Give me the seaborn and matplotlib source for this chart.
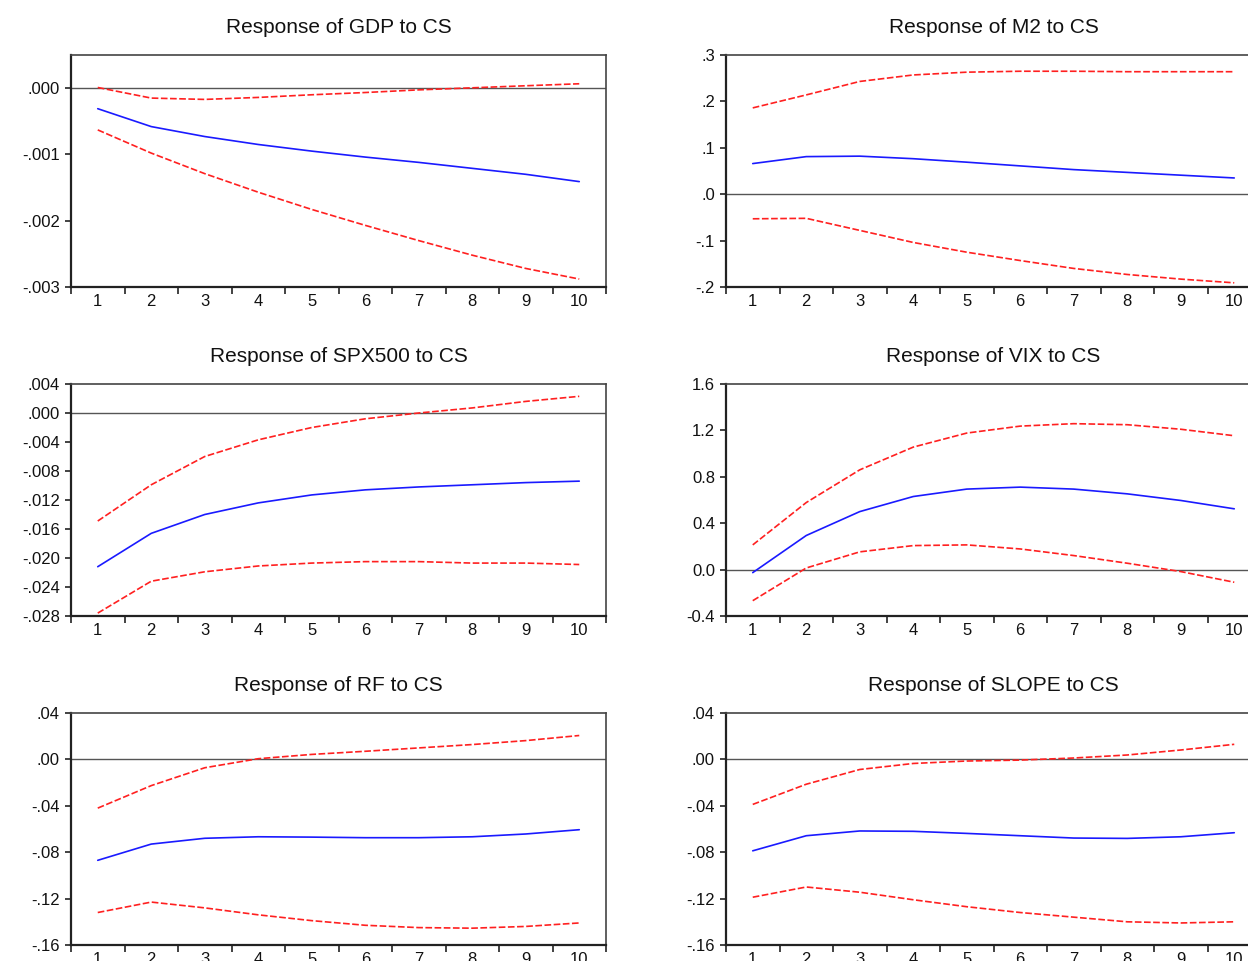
import numpy as np
import pandas as pd
import seaborn as sns
import matplotlib.pyplot as plt
from matplotlib.ticker import FixedLocator, FuncFormatter

# Impulse responses to a CS shock, periods 1-10 (response, +/- 2 S.E. bands).
steps = list(range(1, 11))

gdp_resp = [-0.00031, -0.00058, -0.00073, -0.00085, -0.00095, -0.00104, -0.00112, -0.00121, -0.00130, -0.00141]
gdp_upper = [0.00001, -0.00015, -0.00017, -0.00014, -0.00010, -0.000066, -0.000026, 0.000005, 0.000036, 0.000066]
gdp_lower = [-0.00063, -0.00098, -0.00129, -0.00157, -0.00183, -0.00207, -0.00230, -0.00252, -0.00272, -0.00288]

m2_resp = [0.066, 0.081, 0.082, 0.0765, 0.069, 0.061, 0.053, 0.047, 0.041, 0.035]
m2_upper = [0.186, 0.214, 0.243, 0.257, 0.263, 0.265, 0.265, 0.264, 0.264, 0.264]
m2_lower = [-0.053, -0.052, -0.078, -0.104, -0.125, -0.143, -0.160, -0.173, -0.183, -0.191]

spx_resp = [-0.0212, -0.0166, -0.0140, -0.0124, -0.0113, -0.0106, -0.0102, -0.0099, -0.0096, -0.0094]
spx_upper = [-0.0149, -0.0099, -0.0060, -0.0037, -0.0020, -0.0008, 0.0000, 0.0007, 0.0016, 0.0023]
spx_lower = [-0.0276, -0.0232, -0.0219, -0.0211, -0.0207, -0.0205, -0.0205, -0.0207, -0.0207, -0.0209]

vix_resp = [-0.026, 0.294, 0.50, 0.63, 0.694, 0.711, 0.694, 0.653, 0.596, 0.524]
vix_upper = [0.213, 0.578, 0.86, 1.056, 1.177, 1.237, 1.258, 1.249, 1.21, 1.154]
vix_lower = [-0.268, 0.014, 0.153, 0.207, 0.213, 0.178, 0.121, 0.055, -0.017, -0.109]

rf_resp = [-0.087, -0.073, -0.068, -0.0667, -0.067, -0.0675, -0.0675, -0.0667, -0.0643, -0.0606]
rf_upper = [-0.042, -0.0226, -0.0072, 0.0006, 0.0043, 0.0070, 0.0099, 0.0128, 0.0162, 0.0206]
rf_lower = [-0.132, -0.123, -0.128, -0.134, -0.139, -0.143, -0.145, -0.1455, -0.144, -0.141]

slope_resp = [-0.0788, -0.0658, -0.0617, -0.0620, -0.0638, -0.0658, -0.0678, -0.0681, -0.0667, -0.0632]
slope_upper = [-0.0388, -0.0214, -0.0087, -0.0035, -0.0014, -0.0006, 0.0012, 0.0038, 0.0081, 0.0130]
slope_lower = [-0.1188, -0.1100, -0.1145, -0.1210, -0.1270, -0.1320, -0.1360, -0.1400, -0.1410, -0.1400]

gdp_ticks = [-0.003, -0.002, -0.001, 0.0]
m2_ticks = [-0.2, -0.1, 0.0, 0.1, 0.2, 0.3]
spx_ticks = [-0.028, -0.024, -0.020, -0.016, -0.012, -0.008, -0.004, 0.0, 0.004]
vix_ticks = [-0.4, 0.0, 0.4, 0.8, 1.2, 1.6]
rf_ticks = [-0.16, -0.12, -0.08, -0.04, 0.0, 0.04]
slope_ticks = [-0.16, -0.12, -0.08, -0.04, 0.0, 0.04]

panels = [
    ('GDP', gdp_resp, gdp_upper, gdp_lower, gdp_ticks, (-0.003, 0.0005), 3, True),
    ('M2', m2_resp, m2_upper, m2_lower, m2_ticks, (-0.2, 0.3), 1, True),
    ('SPX500', spx_resp, spx_upper, spx_lower, spx_ticks, (-0.028, 0.004), 3, True),
    ('VIX', vix_resp, vix_upper, vix_lower, vix_ticks, (-0.4, 1.6), 1, False),
    ('RF', rf_resp, rf_upper, rf_lower, rf_ticks, (-0.16, 0.04), 2, True),
    ('SLOPE', slope_resp, slope_upper, slope_lower, slope_ticks, (-0.16, 0.04), 2, True),
]


def eviews_fmt(decimals, strip):
    # EViews style labels: ".000", "-.001" (no leading zero)
    def fmt(v, pos):
        if abs(v) < 1e-12:
            v = 0.0
        s = f'{v:.{decimals}f}'
        if strip:
            s = s.replace('0.', '.', 1)
        return s
    return FuncFormatter(fmt)


sns.set_style('white')
plt.rcParams['font.family'] = ['Liberation Sans', 'DejaVu Sans']
plt.rcParams['text.color'] = '#111111'
plt.rcParams['xtick.labelcolor'] = '#111111'
plt.rcParams['ytick.labelcolor'] = '#111111'

fig = plt.figure(figsize=(12.48, 9.61), dpi=100)
W, H = 1248, 961
lefts = [71, 726]
tops = [55, 384, 713]
aw, ah = 535, 232

for i, (name, resp, upper, lower, ticks, ylim, dec, strip) in enumerate(panels):
    row, col = divmod(i, 2)
    ax = fig.add_axes([lefts[col] / W, 1 - (tops[row] + ah) / H, aw / W, ah / H])
    df = pd.DataFrame({'step': steps, 'resp': resp, 'upper': upper, 'lower': lower})

    ax.axhline(0, color='#555555', lw=1.0, zorder=1)
    sns.lineplot(data=df, x='step', y='upper', ax=ax, color='#ff2020',
                 lw=1.2, linestyle=(0, (4, 1.5)))
    sns.lineplot(data=df, x='step', y='lower', ax=ax, color='#ff2020',
                 lw=1.2, linestyle=(0, (4, 1.5)))
    sns.lineplot(data=df, x='step', y='resp', ax=ax, color='#1a1aff', lw=1.2)

    ax.set_xlim(0.5, 10.5)
    ax.set_ylim(*ylim)
    ax.set_xlabel('')
    ax.set_ylabel('')
    ax.set_title(f'Response of {name} to CS', fontsize=15, pad=16)

    ax.xaxis.set_major_locator(FixedLocator(np.arange(0.5, 11, 1.0)))
    ax.xaxis.set_minor_locator(FixedLocator(steps))
    ax.xaxis.set_major_formatter(FuncFormatter(lambda v, p: ''))
    ax.xaxis.set_minor_formatter(FuncFormatter(lambda v, p: f'{int(round(v))}'))
    ax.tick_params(axis='x', which='major', direction='out', length=5, width=1.2,
                   color='#222222', bottom=True)
    ax.tick_params(axis='x', which='minor', length=0, pad=5, labelsize=12, bottom=True)

    ax.yaxis.set_major_locator(FixedLocator(ticks))
    ax.yaxis.set_major_formatter(eviews_fmt(dec, strip))
    ax.tick_params(axis='y', direction='out', length=4, width=1.2, pad=4,
                   labelsize=12, color='#222222', left=True)

    for side, sp in ax.spines.items():
        sp.set_visible(True)
        sp.set_color('#222222' if side in ('left', 'bottom') else '#444444')
        sp.set_linewidth(1.6 if side in ('left', 'bottom') else 1.2)

fig.savefig('out.png', dpi=100)
